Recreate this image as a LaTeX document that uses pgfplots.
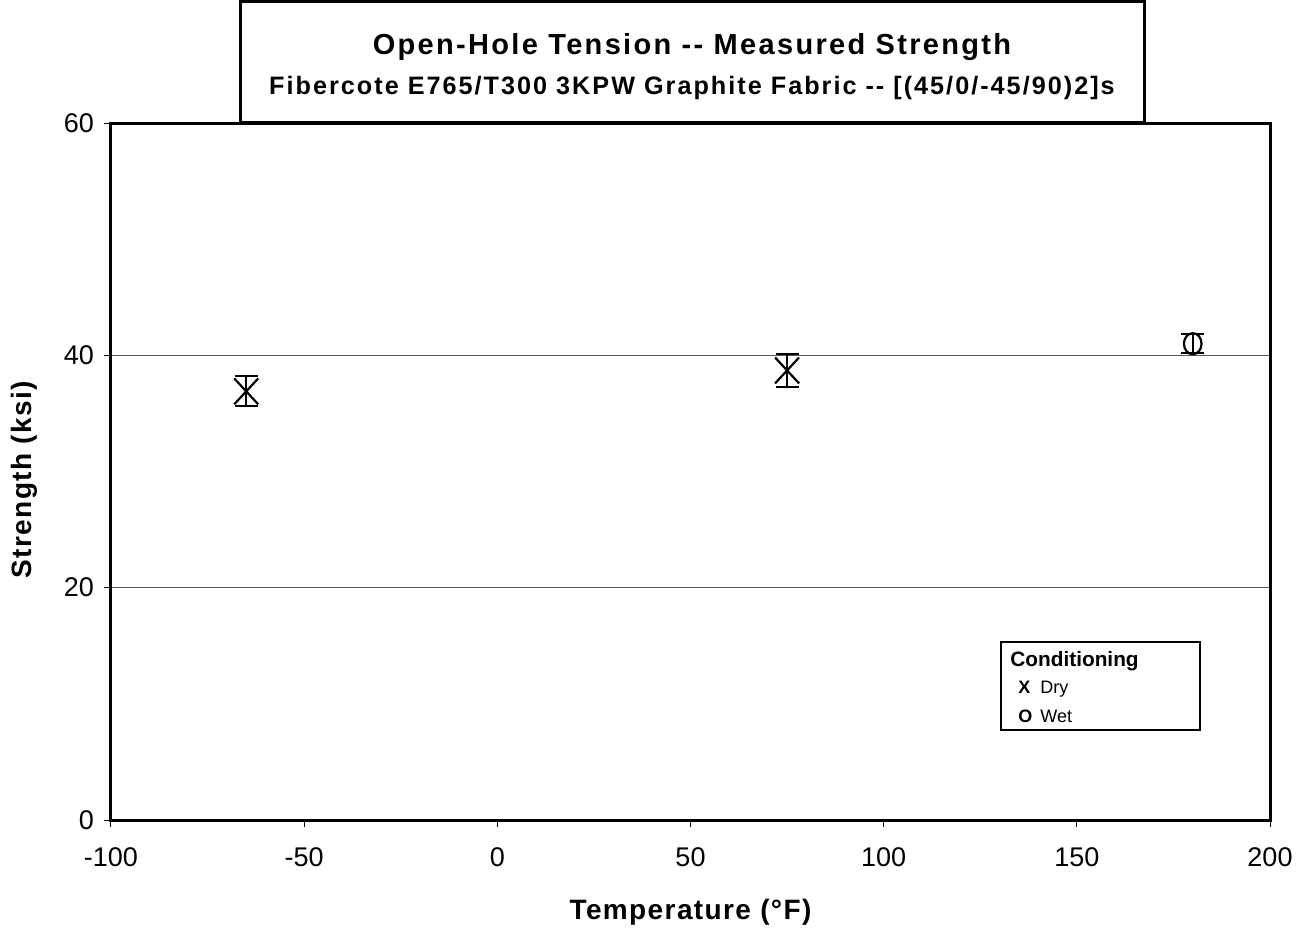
\documentclass[border=0pt]{standalone}
\usepackage{fontspec}
\setmainfont{Liberation Sans}
\newfontfamily\spaced[LetterSpace=8]{Liberation Sans}
\newfontfamily\spacedlab[LetterSpace=5]{Liberation Sans}
\usepackage{pgfplots}
\pgfplotsset{compat=1.18}
\begin{document}
\begin{tikzpicture}
\useasboundingbox (-55.5pt,-56.5pt) rectangle (594.5pt,410pt);
\begin{axis}[
  at={(0pt,0pt)}, anchor=south west,
  scale only axis, width=579.5pt, height=348.5pt,
  xmin=-100, xmax=200, ymin=0, ymax=60,
  xtick={-100,-50,0,50,100,150,200}, ytick={0,20,40,60},
  axis line style={line width=1.5pt},
  ymajorgrids, grid style={black!65, line width=0.6pt},
  tick align=outside, tick pos=left, major tick length=3.5pt,
  tick style={black, line width=0.5pt},
  ticklabel style={font=\fontsize{13.5}{16}\selectfont},
  xticklabel style={yshift=-7pt},
  yticklabel style={xshift=-1.5pt},
  /pgf/number format/assume math mode=true,
  xlabel={\spacedlab\bfseries Temperature (°F)},
  ylabel={\spacedlab\bfseries Strength (ksi)},
  label style={font=\fontsize{14}{17}\selectfont},
  xlabel style={at={(axis description cs:0.5,-0.133)}, anchor=center},
  ylabel style={at={(axis description cs:-0.075,0.488)}, anchor=center},
  clip=false,
]
% Dry
\addplot[only marks, mark=x, mark size=8.5pt, line width=1.1pt, black,
  mark options={yscale=1.08},
  error bars/.cd, y dir=both, y explicit, error mark=-,
  error bar style={line width=1pt},
  error mark options={mark size=5.75pt, line width=1pt, rotate=90}]
  coordinates {(-65,36.9) +- (0,1.3) (75,38.7) +- (0,1.4)};
% Wet
\addplot[only marks, mark=o, mark size=4.4pt, line width=1.1pt, black,
  mark options={yscale=1.2},
  error bars/.cd, y dir=both, y explicit, error mark=-,
  error bar style={line width=1pt},
  error mark options={mark size=5.75pt, line width=1pt, rotate=90}]
  coordinates {(180,41.0) +- (0,0.8)};
\end{axis}
% title box
\draw[line width=1.5pt, fill=white] (64.5pt,348.5pt) rectangle (516.5pt,409.2pt);
\node[font=\fontsize{14.5}{17}\selectfont\spaced\bfseries] at (290.5pt,386.5pt) {Open-Hole Tension -{}- Measured Strength};
\node[font=\fontsize{12.6}{15}\selectfont\spaced\bfseries] at (290.5pt,366pt) {Fibercote E765/T300 3KPW Graphite Fabric -{}- [(45/0/-45/90)2]s};
% legend box
\draw[line width=1pt, fill=white] (445pt,89pt) rectangle (544.5pt,45pt);
\node[anchor=base west, inner sep=0pt, font=\fontsize{10.4}{12}\selectfont\bfseries] at (449.5pt,76.7pt) {Conditioning};
\node[anchor=base west, inner sep=0pt, font=\fontsize{9}{11}\selectfont\bfseries] at (453.5pt,63.2pt) {X};
\node[anchor=base west, inner sep=0pt, font=\fontsize{9}{11}\selectfont] at (464.5pt,63.2pt) {Dry};
\node[anchor=base west, inner sep=0pt, font=\fontsize{9}{11}\selectfont\bfseries] at (453.5pt,49pt) {O};
\node[anchor=base west, inner sep=0pt, font=\fontsize{9}{11}\selectfont] at (464.5pt,49pt) {Wet};
\end{tikzpicture}
\end{document}
